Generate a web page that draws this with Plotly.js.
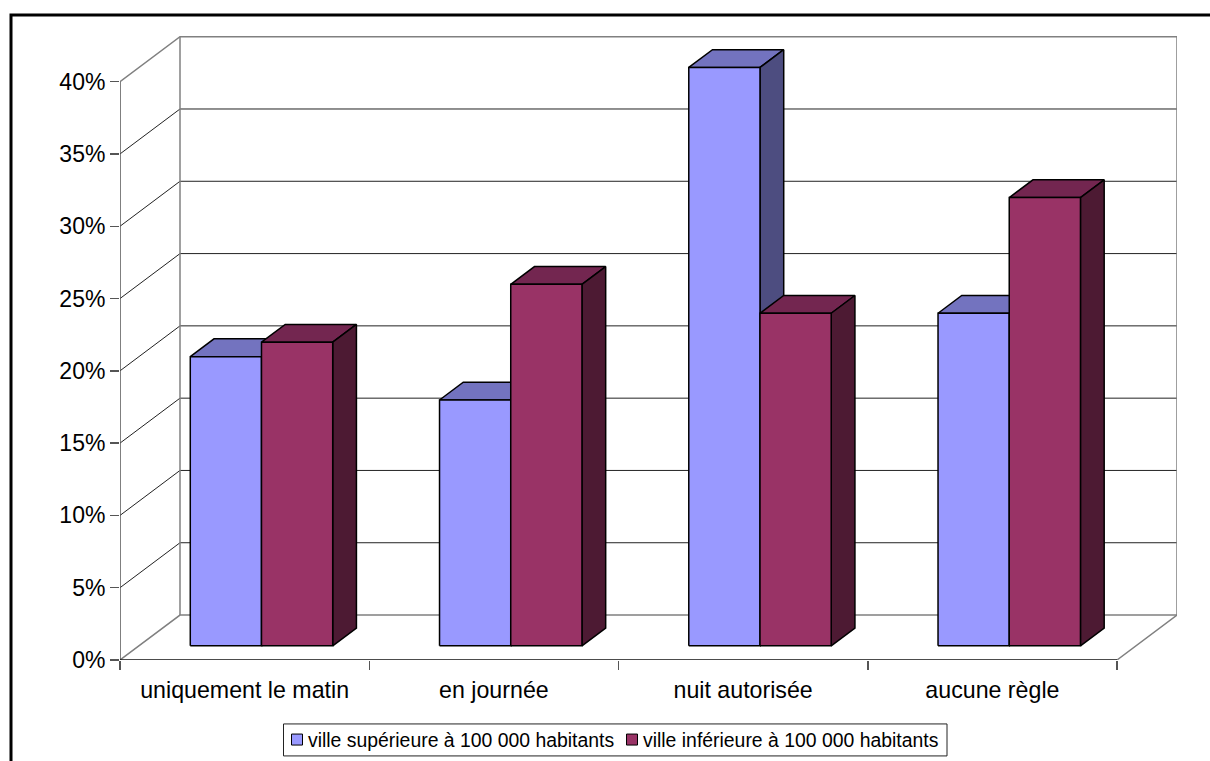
<!DOCTYPE html>
<html lang="fr">
<head>
<meta charset="utf-8">
<title>Horaires selon la taille de la ville</title>
<script src="https://cdn.plot.ly/plotly-3.0.1.min.js"></script>
<style>
  html, body { margin: 0; padding: 0; background: #fff; overflow: hidden; }
</style>
</head>
<body>
<div id="chart" style="width:1210px;height:761px"></div>
<script>
// Chart values, in percent
const categories = ["uniquement le matin", "en journée", "nuit autorisée", "aucune règle"];
const upperCity = [20, 17, 40, 23];
const lowerCity = [21, 25, 23, 31];
const seriesNames = ["ville supérieure à 100 000 habitants", "ville inférieure à 100 000 habitants"];
const percentTicks = [0, 5, 10, 15, 20, 25, 30, 35, 40];

// Pixel box of the plot and scale of the front plane
const W = 1210, H = 761;
const left = 120, right = 1177, top_ = 35, bottom = 660.5;
const pxPerCat = 249.25, pxPerPct = 14.47;

// A point at depth d (0 = front plane, 1 = back wall) shifts up and to the right
const wallDx = 60 / pxPerCat, wallDy = 45 / pxPerPct;
const px = (u, v, d) => [u + d * wallDx, v + d * wallDy];

// Bar placement inside a category, and its position in depth
const barStart = 0.206, barWidth = 0.2857;
const barFront = 14.2 / 45, barBack = 32 / 45;

function polygons(values, slot, faceOf) {
  const xs = [], ys = [];
  values.forEach((v, i) => {
    const u0 = i + barStart + slot * barWidth, u1 = u0 + barWidth;
    faceOf(u0, u1, v).forEach(p => { xs.push(p[0]); ys.push(p[1]); });
    xs.push(null); ys.push(null);
  });
  return {x: xs, y: ys};
}
const frontFace = (a, b, v) => [px(a, 0, barFront), px(b, 0, barFront), px(b, v, barFront), px(a, v, barFront), px(a, 0, barFront)];
const sideFace = (a, b, v) => [px(b, 0, barFront), px(b, 0, barBack), px(b, v, barBack), px(b, v, barFront), px(b, 0, barFront)];
const topFace = (a, b, v) => [px(a, v, barFront), px(b, v, barFront), px(b, v, barBack), px(a, v, barBack), px(a, v, barFront)];

function face(values, slot, faceOf, color) {
  return Object.assign(polygons(values, slot, faceOf), {
    type: "scatter", mode: "lines", fill: "toself", fillcolor: color,
    line: {color: "#000", width: 1.5}, hoverinfo: "skip", showlegend: false
  });
}
function wire(segments, color, width) {
  const xs = [], ys = [];
  segments.forEach(s => { s.forEach(p => { xs.push(p[0]); ys.push(p[1]); }); xs.push(null); ys.push(null); });
  return {x: xs, y: ys, type: "scatter", mode: "lines", line: {color, width}, hoverinfo: "skip", showlegend: false};
}

const nCat = categories.length;
const inner = percentTicks.slice(1, -1);
const maxPct = percentTicks[percentTicks.length - 1];

const traces = [
  // Gridlines on the side wall and the back wall
  wire(inner.map(v => [px(0, v, 0), px(0, v, 1), px(nCat, v, 1)]), "#222", 1),
  // Outline of walls and floor
  wire([[px(0, maxPct, 0), px(0, maxPct, 1), px(nCat, maxPct, 1), px(nCat, 0, 1), px(nCat, 0, 0)],
        [px(0, 0, 0), px(0, 0, 1), px(nCat, 0, 1)], [px(0, 0, 1), px(0, maxPct, 1)]], "#808080", 1.5),
  // Front axis lines
  wire([[px(0, 0, 0), px(0, maxPct, 0)]], "#555", 1.5),
  wire([[px(0, 0, 0), px(nCat, 0, 0)]], "#111", 1.5),
  // Bars, back to front
  face(upperCity, 0, topFace, "#7373BF"),
  face(upperCity, 0, sideFace, "#4D4D80"),
  face(upperCity, 0, frontFace, "#9999FF"),
  face(lowerCity, 1, topFace, "#732650"),
  face(lowerCity, 1, sideFace, "#4D1A33"),
  face(lowerCity, 1, frontFace, "#993366"),
  // Legend entries
  {x: [null], y: [null], type: "scatter", mode: "markers", name: seriesNames[0], hoverinfo: "skip",
   marker: {symbol: "square", size: 11, color: "#9999FF", line: {color: "#000", width: 1}}},
  {x: [null], y: [null], type: "scatter", mode: "markers", name: seriesNames[1], hoverinfo: "skip",
   marker: {symbol: "square", size: 11, color: "#993366", line: {color: "#000", width: 1}}}
];

// Pixel positions outside the plot expressed as paper fractions
const paperX = p => (p - left) / (right - left);
const paperY = p => (bottom - p) / (bottom - top_);

const layout = {
  width: W, height: H,
  margin: {l: left, r: W - right, t: top_, b: H - bottom, pad: 0, autoexpand: false},
  paper_bgcolor: "#fff", plot_bgcolor: "rgba(0,0,0,0)",
  font: {family: "Liberation Sans, Arial, sans-serif", color: "#000", size: 19},
  showlegend: true,
  hovermode: false,
  legend: {
    orientation: "h", x: paperX(283), y: paperY(721), xanchor: "left", yanchor: "top",
    borderwidth: 0, bgcolor: "rgba(0,0,0,0)", indentation: -15,
    entrywidth: 305, entrywidthmode: "pixels",
    font: {size: 19.4, family: "Liberation Sans, Arial, sans-serif"}
  },
  xaxis: {
    range: [0, (right - left) / pxPerCat], showgrid: false, zeroline: false, showline: false, fixedrange: true,
    tickmode: "array", tickvals: categories.map((c, i) => i + 0.5), ticktext: categories,
    ticks: "", ticklabelstandoff: 14, tickfont: {size: 23.2},
    minor: {tickmode: "array", tickvals: categories.map((c, i) => i).concat(nCat), ticks: "outside", ticklen: 9, tickwidth: 1.5, tickcolor: "#555", showgrid: false}
  },
  yaxis: {
    range: [0, (bottom - top_) / pxPerPct], showgrid: false, zeroline: false, showline: false, fixedrange: true,
    tickmode: "array", tickvals: percentTicks, ticktext: percentTicks.map(v => v + "%"),
    ticks: "outside", ticklen: 9, tickwidth: 1.5, tickcolor: "#555", tickfont: {size: 23}
  },
  shapes: [{
    // Outer frame, running off the right and bottom of the page
    type: "rect", xref: "paper", yref: "paper", layer: "below",
    x0: paperX(11), x1: paperX(1300), y0: paperY(850), y1: paperY(15),
    line: {color: "#000", width: 3}, fillcolor: "rgba(0,0,0,0)"
  }, {
    // Box around the legend
    type: "rect", xref: "paper", yref: "paper", layer: "below",
    x0: paperX(283.5), x1: paperX(947), y0: paperY(756.5), y1: paperY(724.5),
    line: {color: "#222", width: 1}, fillcolor: "#fff"
  }]
};

Plotly.newPlot("chart", traces, layout, {displayModeBar: false, staticPlot: true}).then(() => {
  // Pull the legend swatches closer to their labels
  document.querySelectorAll("#chart .legend .legendpoints").forEach(g => {
    g.setAttribute("transform", "translate(9,0)");
  });
});
</script>
</body>
</html>
